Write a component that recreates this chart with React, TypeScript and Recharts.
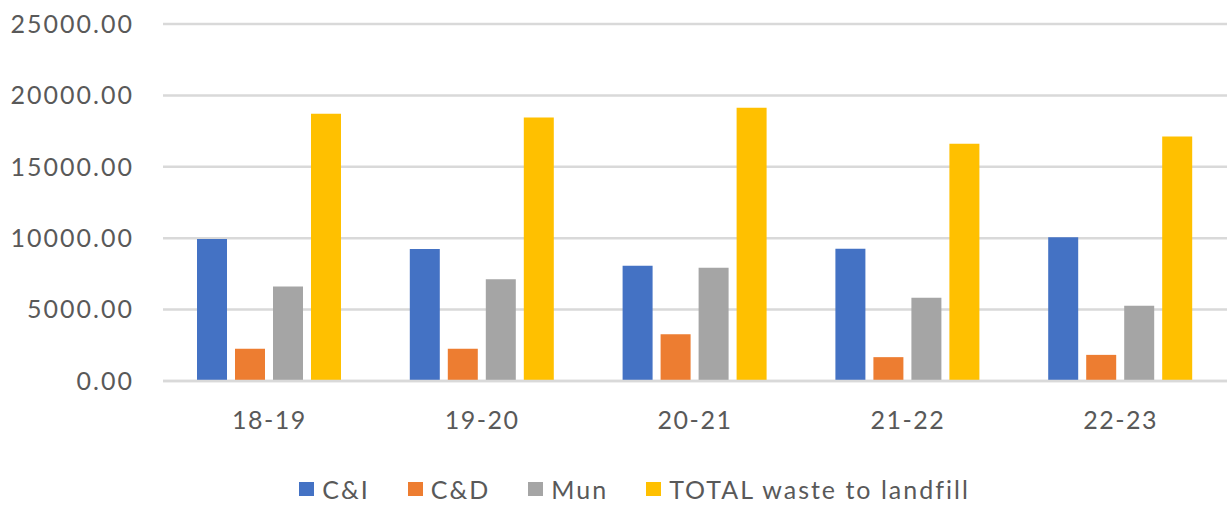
import React from "react";
import { BarChart, Bar, XAxis, YAxis, CartesianGrid, Legend } from "recharts";

const categories = ["18-19", "19-20", "20-21", "21-22", "22-23"];
const ciValues = [9950, 9250, 8070, 9260, 10070];
const cdValues = [2250, 2250, 3280, 1670, 1830];
const munValues = [6620, 7130, 7930, 5830, 5270];
const totalValues = [18710, 18450, 19130, 16610, 17120];
const yTicks = [0, 5000, 10000, 15000, 20000, 25000];

const seriesInfo = [
  { key: "ci", name: "C&I", color: "#4472C4" },
  { key: "cd", name: "C&D", color: "#ED7D31" },
  { key: "mun", name: "Mun", color: "#A5A5A5" },
  { key: "total", name: "TOTAL waste to landfill", color: "#FFC000" },
];

const data = categories.map((c, i) => ({
  cat: c,
  ci: ciValues[i],
  cd: cdValues[i],
  mun: munValues[i],
  total: totalValues[i],
}));

const FONT = "Lato, 'Open Sans', sans-serif";
const TEXT = "#595959";

const LegendContent = () => (
  <div
    style={{
      display: "flex",
      justifyContent: "center",
      alignItems: "center",
      height: 40,
      paddingLeft: 80,
      fontFamily: FONT,
      fontSize: 25,
      letterSpacing: 2,
      color: TEXT,
    }}
  >
    {seriesInfo.map((s) => (
      <div key={s.key} style={{ display: "flex", alignItems: "center", marginRight: 38 }}>
        <div style={{ width: 15, height: 14, background: s.color, marginRight: 8 }} />
        <span>{s.name}</span>
      </div>
    ))}
  </div>
);

export default function App() {
  return (
    <div style={{ position: "absolute", left: 0, top: 0, background: "#fff" }}>
      <BarChart
        width={1227}
        height={509}
        data={data}
        margin={{ top: 24, right: 0, bottom: 0, left: 0 }}
        barSize={30}
        barGap={8}
      >
        <CartesianGrid vertical={false} stroke="#d9d9d9" strokeWidth={2.5} />
        <XAxis
          dataKey="cat"
          axisLine={{ stroke: "#d9d9d9", strokeWidth: 2.5 }}
          tickLine={false}
          tickSize={0}
          tickMargin={30}
          height={88}
          tick={{ fill: TEXT, fontSize: 25, fontFamily: FONT, letterSpacing: 1.5 }}
          interval={0}
        />
        <YAxis
          domain={[0, 25000]}
          ticks={yTicks}
          width={163}
          axisLine={false}
          tickLine={false}
          tickSize={0}
          tickMargin={29}
          tickFormatter={(v: number) => v.toFixed(2)}
          tick={{ fill: TEXT, fontSize: 25, fontFamily: FONT, letterSpacing: 2 }}
        />
        <Legend verticalAlign="bottom" content={<LegendContent />} wrapperStyle={{ left: 0, width: 1227 }} />
        {seriesInfo.map((s) => (
          <Bar key={s.key} dataKey={s.key} name={s.name} fill={s.color} isAnimationActive={false} />
        ))}
      </BarChart>
    </div>
  );
}
